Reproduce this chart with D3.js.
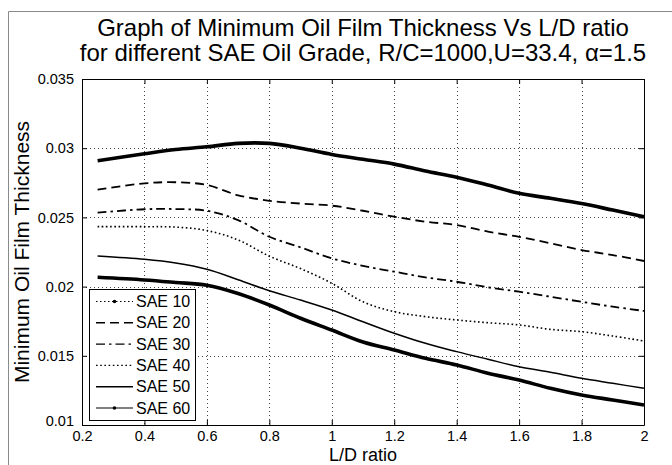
<!DOCTYPE html>
<html>
<head>
<meta charset="utf-8">
<script src="https://cdn.jsdelivr.net/npm/d3@7/dist/d3.min.js"></script>
<style>
  html, body { margin: 0; padding: 0; background: #fff; }
  svg { display: block; }
  text { font-family: "Liberation Sans", Arial, sans-serif; fill: #000; }
</style>
</head>
<body>
<div id="chart"></div>
<script>
// L/D ratio sample points
const ldRatio = [0.25, 0.4, 0.5, 0.6, 0.7, 0.8, 0.9, 1.0, 1.1, 1.2, 1.3, 1.4, 1.5, 1.6, 1.7, 1.8, 1.9, 2.0];

// Minimum oil film thickness for each SAE grade
const sae10 = [0.0291, 0.0296, 0.0299, 0.0301, 0.03035, 0.03035, 0.0300, 0.02955, 0.0292, 0.02885, 0.02835, 0.0279, 0.02734, 0.02674, 0.02638, 0.0260, 0.02553, 0.02505];
const sae20 = [0.0270, 0.02746, 0.02754, 0.02734, 0.0266, 0.0262, 0.0260, 0.02585, 0.02548, 0.02505, 0.02469, 0.02445, 0.02397, 0.0236, 0.02313, 0.02264, 0.02228, 0.02185];
const sae30 = [0.02534, 0.02559, 0.0256, 0.02548, 0.0248, 0.0236, 0.02284, 0.02204, 0.0215, 0.02108, 0.02067, 0.02035, 0.01995, 0.01963, 0.01927, 0.0189, 0.01855, 0.01824];
const sae40 = [0.02433, 0.02433, 0.0243, 0.02405, 0.02337, 0.0222, 0.0213, 0.02024, 0.0189, 0.01819, 0.01783, 0.01759, 0.01739, 0.01723, 0.01691, 0.01674, 0.01643, 0.01607];
const sae50 = [0.02221, 0.02197, 0.0217, 0.02125, 0.0205, 0.0197, 0.01903, 0.01831, 0.01746, 0.01663, 0.0159, 0.0153, 0.01475, 0.01421, 0.01381, 0.01337, 0.01301, 0.01265];
const sae60 = [0.02067, 0.02048, 0.0203, 0.0201, 0.0195, 0.01867, 0.01771, 0.01686, 0.0160, 0.01542, 0.01482, 0.01434, 0.01374, 0.01325, 0.01265, 0.01217, 0.01181, 0.01145];

const seriesNames = ["SAE 10", "SAE 20", "SAE 30", "SAE 40", "SAE 50", "SAE 60"];
const seriesValues = [sae10, sae20, sae30, sae40, sae50, sae60];

const xTicks = [0.2, 0.4, 0.6, 0.8, 1, 1.2, 1.4, 1.6, 1.8, 2];
const yTicks = [0.01, 0.015, 0.02, 0.025, 0.03, 0.035];

const titleLines = ["Graph of Minimum Oil Film Thickness Vs L/D ratio",
                    "for different SAE Oil Grade, R/C=1000,U=33.4, \u03B1=1.5"];
const xLabel = "L/D ratio";
const yLabel = "Minimum Oil Film Thickness";

// line style per series: dash pattern, width, marker-line flag
const styles = [
  { dash: null, width: 3.6, marked: true,  legendDash: "1.5,2.5" },
  { dash: "9,5", width: 1.8, marked: false, legendDash: "9,5" },
  { dash: "9,4,2.5,4", width: 1.8, marked: false, legendDash: "9,4,2.5,4" },
  { dash: "1.6,2.6", width: 1.6, marked: false, legendDash: "1.6,2.6" },
  { dash: null, width: 1.5, marked: false, legendDash: null },
  { dash: null, width: 3.6, marked: true,  legendDash: null }
];

const W = 672, H = 465;
const margin = { left: 82, right: 28, top: 79, bottom: 40 };
const pw = W - margin.left - margin.right;
const ph = H - margin.top - margin.bottom;

const svg = d3.select("#chart").append("svg").attr("width", W).attr("height", H);

// figure frame
svg.append("path")
  .attr("d", `M8.5,${H + 2} V11.5 H${W + 2}`)
  .attr("fill", "none").attr("stroke", "#8a8a8a").attr("stroke-width", 1);

const x = d3.scaleLinear().domain([0.2, 2]).range([margin.left, margin.left + pw]);
const y = d3.scaleLinear().domain([0.01, 0.035]).range([margin.top + ph, margin.top]);

const g = svg.append("g");

// grid
g.append("g").selectAll("line").data(xTicks.slice(1, -1)).join("line")
  .attr("x1", d => Math.round(x(d)) + 0.5).attr("x2", d => Math.round(x(d)) + 0.5)
  .attr("y1", margin.top).attr("y2", margin.top + ph)
  .attr("stroke", "#444").attr("stroke-width", 1).attr("stroke-dasharray", "1,3");
g.append("g").selectAll("line").data(yTicks.slice(1, -1)).join("line")
  .attr("y1", d => Math.round(y(d)) + 0.5).attr("y2", d => Math.round(y(d)) + 0.5)
  .attr("x1", margin.left).attr("x2", margin.left + pw)
  .attr("stroke", "#444").attr("stroke-width", 1).attr("stroke-dasharray", "1,3");

// axes with inward ticks on all four sides
const fmt = d => String(+d.toFixed(3));
const axB = d3.axisBottom(x).tickValues(xTicks).tickSizeInner(-5).tickSizeOuter(0).tickPadding(6).tickFormat(fmt);
const axT = d3.axisTop(x).tickValues(xTicks).tickSizeInner(-5).tickSizeOuter(0).tickFormat("");
const axL = d3.axisLeft(y).tickValues(yTicks).tickSizeInner(-5).tickSizeOuter(0).tickPadding(8).tickFormat(fmt);
const axR = d3.axisRight(y).tickValues(yTicks).tickSizeInner(-5).tickSizeOuter(0).tickFormat("");

function styleAxis(sel) {
  sel.select(".domain").attr("stroke", "#000").attr("stroke-width", 1);
  sel.selectAll(".tick line").attr("stroke", "#000");
  sel.selectAll("text").attr("font-size", 14.5).attr("font-family", "'Liberation Sans', Arial, sans-serif").attr("fill", "#000");
}
g.append("g").attr("transform", `translate(0,${margin.top + ph})`).call(axB).call(styleAxis);
g.append("g").attr("transform", `translate(0,${margin.top})`).call(axT).call(styleAxis);
const leftAxis = g.append("g").attr("transform", `translate(${margin.left},0)`).call(axL).call(styleAxis);
g.append("g").attr("transform", `translate(${margin.left + pw},0)`).call(axR).call(styleAxis);
// lift the lowest y label clear of the first x label
leftAxis.selectAll(".tick").filter(d => d === 0.01).select("text").attr("dy", "0.0em");

// series curves
const line = d3.line()
  .x((d, i) => x(ldRatio[i]))
  .y(d => y(d))
  .curve(d3.curveCatmullRom.alpha(0.5));

seriesValues.forEach((vals, k) => {
  const s = styles[k];
  g.append("path")
    .attr("d", line(vals))
    .attr("fill", "none")
    .attr("stroke", "#000")
    .attr("stroke-width", s.width)
    .attr("stroke-dasharray", s.dash)
    .attr("stroke-linejoin", "round");
});

// title
svg.append("g").selectAll("text").data(titleLines).join("text")
  .attr("x", margin.left + pw / 2)
  .attr("y", (d, i) => 36 + i * 25)
  .attr("text-anchor", "middle")
  .attr("font-size", 24)
  .text(d => d);

// axis labels
svg.append("text")
  .attr("x", margin.left + pw / 2).attr("y", 461)
  .attr("text-anchor", "middle").attr("font-size", 18)
  .text(xLabel);
svg.append("text")
  .attr("transform", `translate(29,${margin.top + ph / 2}) rotate(-90)`)
  .attr("text-anchor", "middle").attr("font-size", 21)
  .text(yLabel);

// legend
const lg = svg.append("g");
lg.append("rect")
  .attr("x", 89.5).attr("y", 289.5).attr("width", 106).attr("height", 131)
  .attr("fill", "#fff").attr("stroke", "#000").attr("stroke-width", 1);
seriesNames.forEach((name, k) => {
  const s = styles[k];
  const ly = 301.5 + k * 21.3;
  lg.append("line")
    .attr("x1", 96).attr("x2", 133).attr("y1", ly).attr("y2", ly)
    .attr("stroke", "#000").attr("stroke-width", s.marked ? 1.2 : 1.4)
    .attr("stroke-dasharray", s.legendDash);
  if (s.marked) {
    lg.append("circle").attr("cx", 114.5).attr("cy", ly).attr("r", 1.8).attr("fill", "#000");
  }
  lg.append("text")
    .attr("x", 136).attr("y", ly + 5.5)
    .attr("font-size", 16)
    .text(name);
});
</script>
</body>
</html>
